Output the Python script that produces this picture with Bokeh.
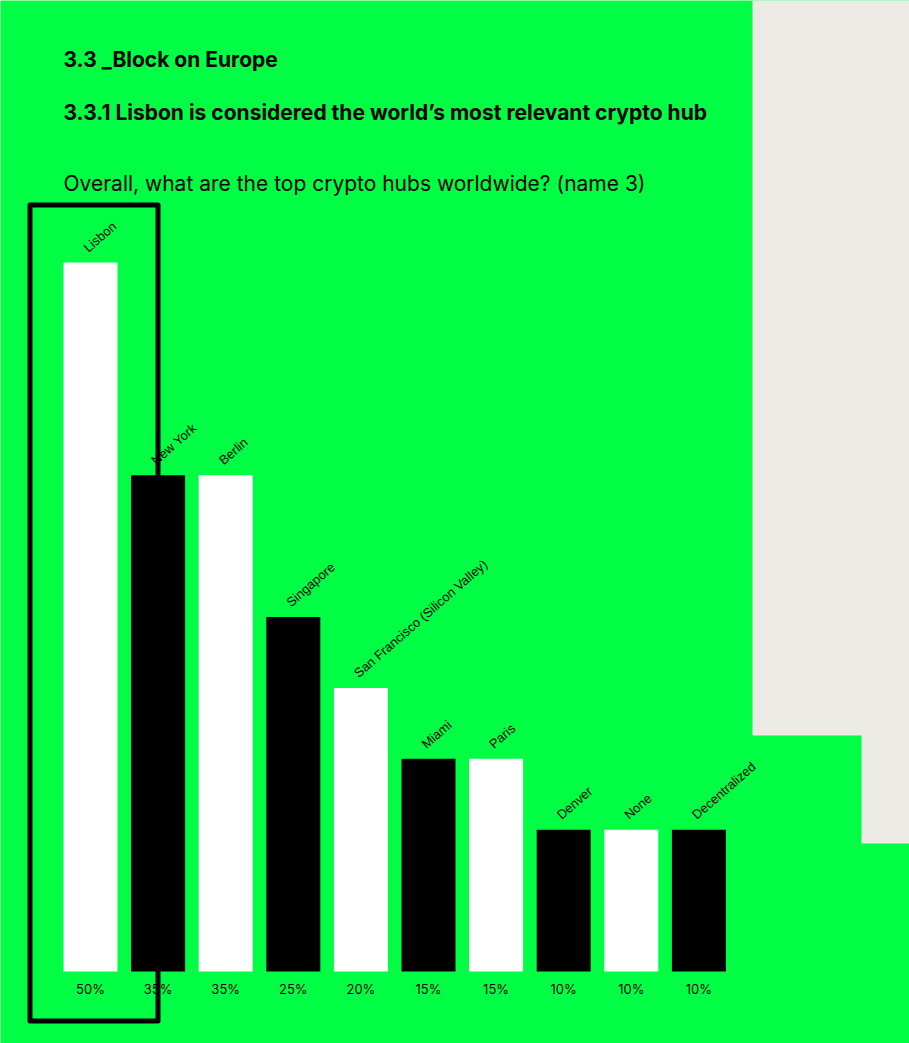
from bokeh.plotting import figure
from bokeh.models import Range1d, ColumnDataSource
from bokeh.core.properties import value
from bokeh.embed import file_html
from bokeh.resources import INLINE

# ---- data ----
cities = ["Lisbon", "New York", "Berlin", "Singapore", "San Francisco (Silicon Valley)",
          "Miami", "Paris", "Denver", "None", "Decentralized"]
shares = [50, 35, 35, 25, 20, 15, 15, 10, 10, 10]
share_labels = ["50%", "35%", "35%", "25%", "20%", "15%", "15%", "10%", "10%", "10%"]
bar_colors = ["#FFFFFF", "#000000"] * 5

title1 = "3.3 _Block on Europe"
title2 = "3.3.1 Lisbon is considered the world\u2019s most relevant crypto hub"
question = "Overall, what are the top crypto hubs worldwide? (name 3)"

GREEN = "#00FF44"
BEIGE = "#EBEAE4"
FONT = "Inter"
LABEL_FONT = "Liberation Sans"

W, H = 909, 1043
# layout: index 0 centred at pixel 90, pitch 67.6 px; share 0 at pixel row 971, 14.18 px per point
X0, PITCH = 90.0, 67.6
Y0, PPU = 971.0, 14.18


def X(px):
    return (px - X0) / PITCH


def Y(py):
    return (Y0 - py) / PPU


p = figure(width=W, height=H, output_backend="svg", toolbar_location=None,
           x_range=Range1d(X(0), X(W)), y_range=Range1d(Y(H), Y(0)),
           x_axis_type=None, y_axis_type=None, min_border=0)
p.background_fill_color = GREEN
p.border_fill_color = GREEN
p.outline_line_color = None
p.grid.visible = False

# beige side panel
p.quad(left=[X(752), X(861)], right=[X(W + 5), X(W + 5)], top=[Y(-5), Y(734)],
       bottom=[Y(735), Y(843)], fill_color=BEIGE, line_color=None)

idx = list(range(len(cities)))
src = ColumnDataSource(dict(
    x=idx, top=shares, color=bar_colors, city=cities, lab=share_labels,
    lx=[i - 5 / PITCH for i in idx],
    ly=[s + 13 / PPU for s in shares],
    vy=[Y(988)] * len(idx),
))

p.vbar(x="x", top="top", bottom=0, width=54 / PITCH, fill_color="color",
       line_color=None, source=src)

p.text(x="lx", y="ly", text="city", source=src, angle=41, angle_units="deg",
       text_font=value(LABEL_FONT), text_font_size="13px", text_color="#000000",
       text_align="left", text_baseline="alphabetic")

p.text(x="x", y="vy", text="lab", source=src, text_font=value(FONT),
       text_font_size="13px", text_color="#000000", text_align="center",
       text_baseline="middle")

# titles
p.text(x=[X(63)], y=[Y(59)], text=[title1], text_font=value(FONT), text_font_size="21px",
       text_font_style="bold", text_color="#000000", text_align="left",
       text_baseline="middle")
p.text(x=[X(63)], y=[Y(112)], text=[title2], text_font=value(FONT), text_font_size="21px",
       text_font_style="bold", text_color="#000000", text_align="left",
       text_baseline="middle")
p.text(x=[X(63)], y=[Y(183)], text=[question], text_font=value(FONT), text_font_size="21px",
       text_color="#000000", text_align="left", text_baseline="middle")

# highlight frame around Lisbon
p.quad(left=[X(29.5)], right=[X(157.5)], top=[Y(204.5)], bottom=[Y(1020.5)],
       fill_alpha=0, line_color="#000000", line_width=5, line_join="round")

open("out.html", "w").write(file_html(p, INLINE))
